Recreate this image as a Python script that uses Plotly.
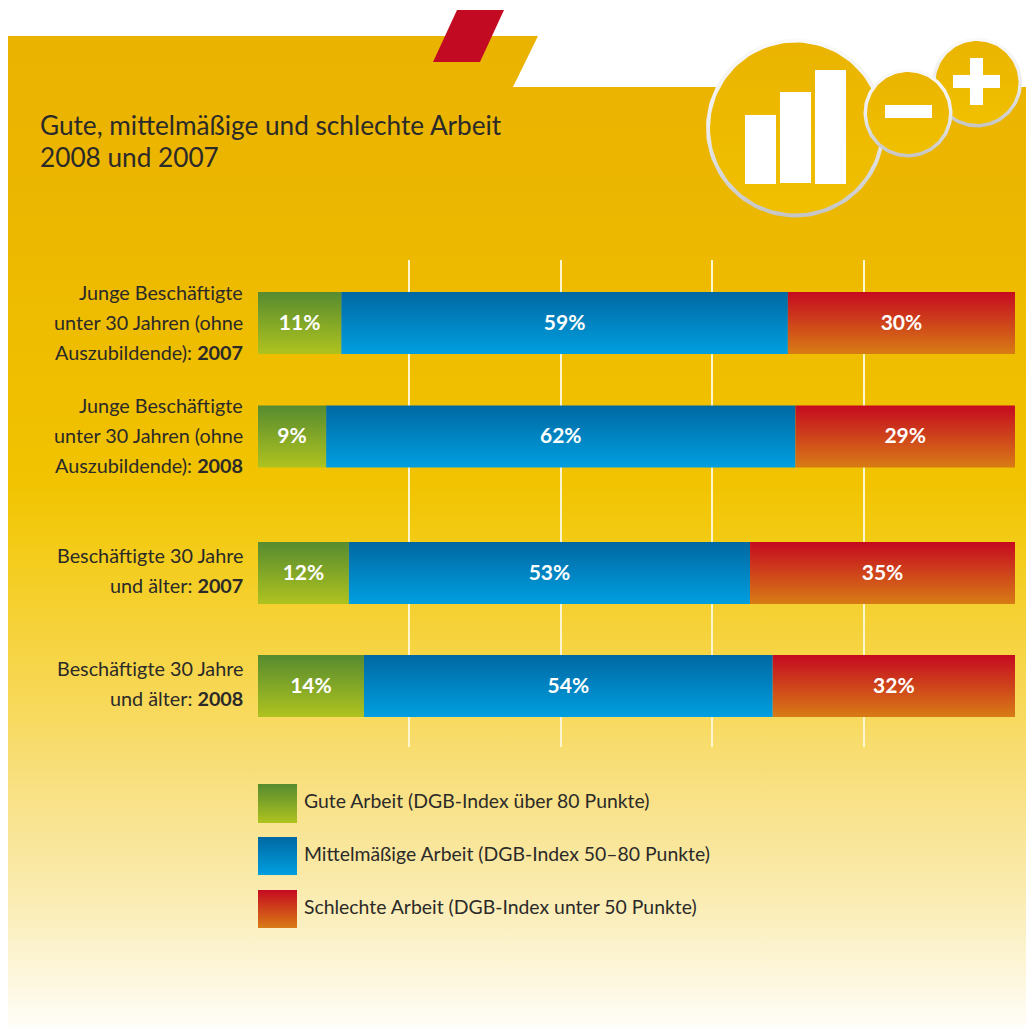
import numpy as np
import plotly.graph_objects as go

# data
row_lines = [
    ["Junge Beschäftigte", "unter 30 Jahren (ohne", "Auszubildende): <b>2007</b>"],
    ["Junge Beschäftigte", "unter 30 Jahren (ohne", "Auszubildende): <b>2008</b>"],
    ["Beschäftigte 30 Jahre", "und älter: <b>2007</b>"],
    ["Beschäftigte 30 Jahre", "und älter: <b>2008</b>"],
]
gute = [11, 9, 12, 14]
mittel = [59, 62, 53, 54]
schlecht = [30, 29, 35, 32]
legend_labels = [
    "Gute Arbeit (DGB-Index über 80 Punkte)",
    "Mittelmäßige Arbeit (DGB-Index 50–80 Punkte)",
    "Schlechte Arbeit (DGB-Index unter 50 Punkte)",
]
title_lines = ["Gute, mittelmäßige und schlechte Arbeit", "2008 und 2007"]

FONT = "Lato"
DARK = "#2b2a29"
W, H = 1026, 1027
GREEN = ["#568b2f", "#afc31f"]
BLUE = ["#0068a2", "#009fe0"]
RED = ["#c50a20", "#d87c15"]
RIM = [[0, "#fafafa"], [0.5, "#ececec"], [1, "#c4c4c4"]]
DISC = ["#eab400", "#f0c000"]

# row centres and half height, in px below the top of the grid lines
row_y = [63, 176.5, 313, 426]
half_bar = 31

fig = go.Figure()


def poly(xs, ys, colors, xaxis="x", yaxis="y"):
    # filled polygon with a vertical gradient from top to bottom
    if isinstance(colors, str):
        colors = [colors, colors]
    if len(colors) == 2:
        scale = [[0, colors[0]], [1, colors[1]]]
    else:
        scale = colors
    fig.add_trace(go.Scatter(
        x=xs, y=ys, mode="lines", line=dict(width=0, color="rgba(0,0,0,0)"),
        fill="toself",
        fillgradient=dict(type="vertical", colorscale=scale, start=min(ys), stop=max(ys)),
        hoverinfo="skip", showlegend=False, xaxis=xaxis, yaxis=yaxis,
    ))


def box(x0, x1, y0, y1, colors, xaxis="x", yaxis="y"):
    poly([x0, x1, x1, x0, x0], [y0, y0, y1, y1, y0], colors, xaxis, yaxis)


def circle(cx, cy, r, colors):
    t = np.linspace(0, 2 * np.pi, 121)
    poly(list(cx + r * np.cos(t)), list(cy + r * np.sin(t)), colors)


# page background, px axes
poly([8, 538, 513, W, W, 8, 8], [36, 36, 87, 87, H, H, 36], [
    [0, "#e9b300"], [0.12, "#ebb500"], [0.45, "#f1c300"], [0.5, "#f3ca11"],
    [0.69, "#f8da60"], [0.74, "#f8de7a"], [0.87, "#faecb2"], [1, "#fffdf8"],
])
poly([457, 504, 480, 433, 457], [10, 10, 62, 62, 10], "#c30a23")

# icon
circle(795.5, 128, 89.5, RIM)
circle(795.5, 128, 85.5, DISC)
circle(977, 82.5, 45, RIM)
circle(977, 82.5, 41.5, DISC)
circle(908, 113, 44.5, RIM)
circle(908, 113, 41, DISC)
box(745, 776, 115, 184, "#ffffff")
box(780, 811, 92, 183, "#ffffff")
box(815, 846, 70, 184, "#ffffff")
box(885, 932, 105, 118, "#ffffff")
box(953, 1000, 75, 88, "#ffffff")
box(970, 983, 58, 105, "#ffffff")

# legend swatches
box(258, 297, 784, 823, GREEN)
box(258, 297, 837, 875, BLUE)
box(258, 297, 890, 928, RED)

# stacked bars on the chart axes
for i, y in enumerate(row_y):
    y0, y1 = y - half_bar, y + half_bar
    a, b = gute[i], gute[i] + mittel[i]
    box(0, a, y0, y1, GREEN, "x2", "y2")
    box(a, b, y0, y1, BLUE, "x2", "y2")
    box(b, b + schlecht[i], y0, y1, RED, "x2", "y2")

value_x, value_y, value_text = [], [], []
for i, y in enumerate(row_y):
    left = 0
    for v in (gute[i], mittel[i], schlecht[i]):
        value_x.append(left + v / 2)
        value_y.append(y + 1.5)
        value_text.append(f"<b>{v}%</b>")
        left += v
fig.add_trace(go.Scatter(
    x=value_x, y=value_y, text=value_text, mode="text", textposition="middle center",
    textfont=dict(family=FONT, size=21, color="#ffffff"),
    hoverinfo="skip", showlegend=False, xaxis="x2", yaxis="y2",
))

annotations = []
for text, y in zip(title_lines, [125, 157]):
    annotations.append(dict(
        text=text, x=38, y=y, xref="x", yref="y", xanchor="left", yanchor="middle",
        showarrow=False, font=dict(family=FONT, size=26.2, color=DARK),
    ))
for text, y in zip(legend_labels, [800, 853, 906]):
    annotations.append(dict(
        text=text, x=302, y=y, xref="x", yref="y", xanchor="left", yanchor="middle",
        showarrow=False, font=dict(family=FONT, size=19.4, color=DARK),
    ))
# row labels, one annotation per line to keep the 30 px line pitch
for lines, y in zip(row_lines, row_y):
    lift = 1.5 if len(lines) == 3 else 3
    for n, text in enumerate(lines):
        annotations.append(dict(
            text=text, x=0, y=y, xref="x2", yref="y2", xanchor="right", yanchor="middle",
            xshift=-13, yshift=-((n - (len(lines) - 1) / 2) * 30) + lift, showarrow=False,
            font=dict(family=FONT, size=19.8, color=DARK),
        ))

fig.update_layout(
    width=W, height=H, margin=dict(l=0, r=0, t=0, b=0, pad=0),
    paper_bgcolor="#ffffff", plot_bgcolor="rgba(0,0,0,0)", showlegend=False,
    annotations=annotations,
    xaxis=dict(domain=[0, 1], range=[0, W], visible=False, fixedrange=True),
    yaxis=dict(domain=[0, 1], range=[H, 0], visible=False, fixedrange=True),
    xaxis2=dict(
        domain=[258 / W, 1015 / W], range=[0, 100], anchor="y2", tickvals=[20, 40, 60, 80],
        showticklabels=False, ticks="", showgrid=True, gridcolor="#fff6d0", gridwidth=1.5,
        zeroline=False, showline=False, fixedrange=True,
    ),
    yaxis2=dict(
        domain=[(H - 747) / H, (H - 260) / H], range=[487, 0], anchor="x2",
        showticklabels=False, ticks="",
        showgrid=False, zeroline=False, showline=False, fixedrange=True,
    ),
)

fig.write_html("out.html", config=dict(displayModeBar=False),
               post_script="document.body.style.margin='0';")
